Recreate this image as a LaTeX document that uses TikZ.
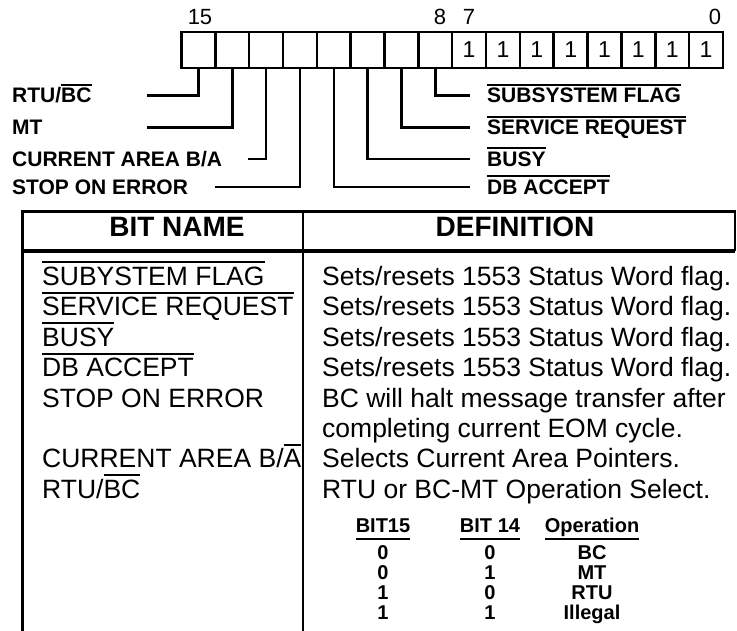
\documentclass[tikz,border=0pt]{standalone}
\usepackage{fontspec}
\setmainfont{Liberation Sans}
\newcommand\ovl[1]{\leavevmode\vbox{\hrule height 1.8pt\kern 2.6pt\hbox{#1}}}
\newcommand\ovlb[1]{\leavevmode\vbox{\hrule height 2pt\kern 3.5pt\hbox{#1}}}
\begin{document}
\begin{tikzpicture}[x=1pt,y=-1pt,
  cell/.style={draw, line width=2.5pt, minimum width=33.84pt, minimum height=36pt, inner sep=0pt, font=\fontsize{23}{23}\selectfont},
  bitnum/.style={inner sep=0pt, font=\fontsize{22}{22}\selectfont},
  lbl/.style={anchor=west, inner sep=0pt, text height=15pt, text depth=0pt, font=\fontsize{21}{21}\selectfont\bfseries},
  lead/.style={line width=2.5pt},
  tline/.style={line width=2.5pt},
  hdr/.style={inner sep=0pt, text height=20pt, text depth=0pt, font=\fontsize{28}{28}\selectfont\bfseries},
  body/.style={anchor=west, inner sep=0pt, text height=19pt, text depth=0pt, font=\fontsize{26.5}{26.5}\selectfont},
  sub/.style={anchor=base, inner sep=0pt, font=\fontsize{20}{20}\selectfont\bfseries},
  uline/.style={line width=2pt}]
\useasboundingbox (0,0) rectangle (737,631);

% register cells
\foreach \b in {8,...,15} {
  \node[cell] (c\b) at ({181.5+33.84*(15-\b)+16.92},50) {};
}
\foreach \b in {0,...,7} {
  \node[cell] (c\b) at ({181.5+33.84*(15-\b)+16.92},50) {1};
}
% bit numbers
\node[bitnum] (n15) at (200,17) {15};
\node[bitnum] (n8) at (440,17) {8};
\node[bitnum] (n7) at (469,17) {7};
\node[bitnum] (n0) at (715,17) {0};

% left labels
\node[lbl] (lRTU) at (12,95.5) {RTU/\ovl{BC}};
\node[lbl] (lMT) at (12,127.5) {MT};
\node[lbl] (lCA) at (12,159) {CURRENT AREA B/A};
\node[lbl] (lSE) at (12,187) {STOP ON ERROR};
% right labels
\node[lbl] (lSF) at (487,95.5) {\ovl{SUBSYSTEM FLAG}};
\node[lbl] (lSR) at (487,127.5) {\ovl{SERVICE REQUEST}};
\node[lbl] (lBY) at (487,159) {\ovl{BUSY}};
\node[lbl] (lDB) at (487,187) {\ovl{DB ACCEPT}};

% free ends of leaders
\coordinate (eRTU) at (147,95.5);
\coordinate (eMT) at (147,127.5);
\coordinate (eCA) at (248,159);
\coordinate (eSE) at (215,187);
\coordinate (eSF) at (470,95.5);
\coordinate (eSR) at (470,127.5);
\coordinate (eBY) at (470,159);
\coordinate (eDB) at (470,187);

\draw[lead] (c15.south) |- (eRTU);
\draw[lead] (c14.south) |- (eMT);
\draw[lead] (c13.south) |- (eCA);
\draw[lead] (c12.south) |- (eSE);
\draw[lead] (c11.south) |- (eDB);
\draw[lead] (c10.south) |- (eBY);
\draw[lead] (c9.south) |- (eSR);
\draw[lead] (c8.south) |- (eSF);

% table frame
\draw[tline] (22.7,631) -- (22.7,211.7) -- (735,211.7) -- (735,251);
\draw[tline] (303,211.7) -- (303,631);
\draw[line width=4pt] (22.7,251) -- (735,251);

% header
\node[hdr] (hBN) at (177,227) {BIT NAME};
\node[hdr] (hDF) at (515,227) {DEFINITION};

% body rows
\node[body] (b0) at (42,276) {\ovlb{SUBYSTEM FLAG}};
\node[body] (b1) at (42,306.4) {\ovlb{SERVICE REQUEST}};
\node[body] (b2) at (42,336.8) {\ovlb{BUSY}};
\node[body] (b3) at (42,367.2) {\ovlb{DB ACCEPT}};
\node[body] (b4) at (42,397.6) {STOP ON ERROR};
\node[body] (b6) at (42,458.4) {CURRENT AREA B/\ovlb{A}};
\node[body] (b7) at (42,488.8) {RTU/\ovlb{BC}};

\node[body] (d0) at (322,276) {Sets/resets 1553 Status Word flag.};
\node[body] (d1) at (322,306.4) {Sets/resets 1553 Status Word flag.};
\node[body] (d2) at (322,336.8) {Sets/resets 1553 Status Word flag.};
\node[body] (d3) at (322,367.2) {Sets/resets 1553 Status Word flag.};
\node[body] (d4) at (322,397.6) {BC will halt message transfer after};
\node[body] (d5) at (322,428) {completing current EOM cycle.};
\node[body] (d6) at (322,458.4) {Selects Current Area Pointers.};
\node[body] (d7) at (322,488.8) {RTU or BC-MT Operation Select.};

% sub table
\node[sub] (s1) at (383,532) {BIT15};
\node[sub] (s2) at (490,532) {BIT 14};
\node[sub] (s3) at (592,532) {Operation};
\draw[uline] ([yshift=-6.5pt]s1.base west) -- ([yshift=-6.5pt]s1.base east);
\draw[uline] ([yshift=-6.5pt]s2.base west) -- ([yshift=-6.5pt]s2.base east);
\draw[uline] ([yshift=-6.5pt]s3.base west) -- ([yshift=-6.5pt]s3.base east);

\node[sub] (r1a) at (383,559) {0};
\node[sub] (r1b) at (490,559) {0};
\node[sub] (r1c) at (592,559) {BC};
\node[sub] (r2a) at (383,579) {0};
\node[sub] (r2b) at (490,579) {1};
\node[sub] (r2c) at (592,579) {MT};
\node[sub] (r3a) at (383,599) {1};
\node[sub] (r3b) at (490,599) {0};
\node[sub] (r3c) at (592,599) {RTU};
\node[sub] (r4a) at (383,619) {1};
\node[sub] (r4b) at (490,619) {1};
\node[sub] (r4c) at (592,619) {Illegal};
\end{tikzpicture}
\end{document}
